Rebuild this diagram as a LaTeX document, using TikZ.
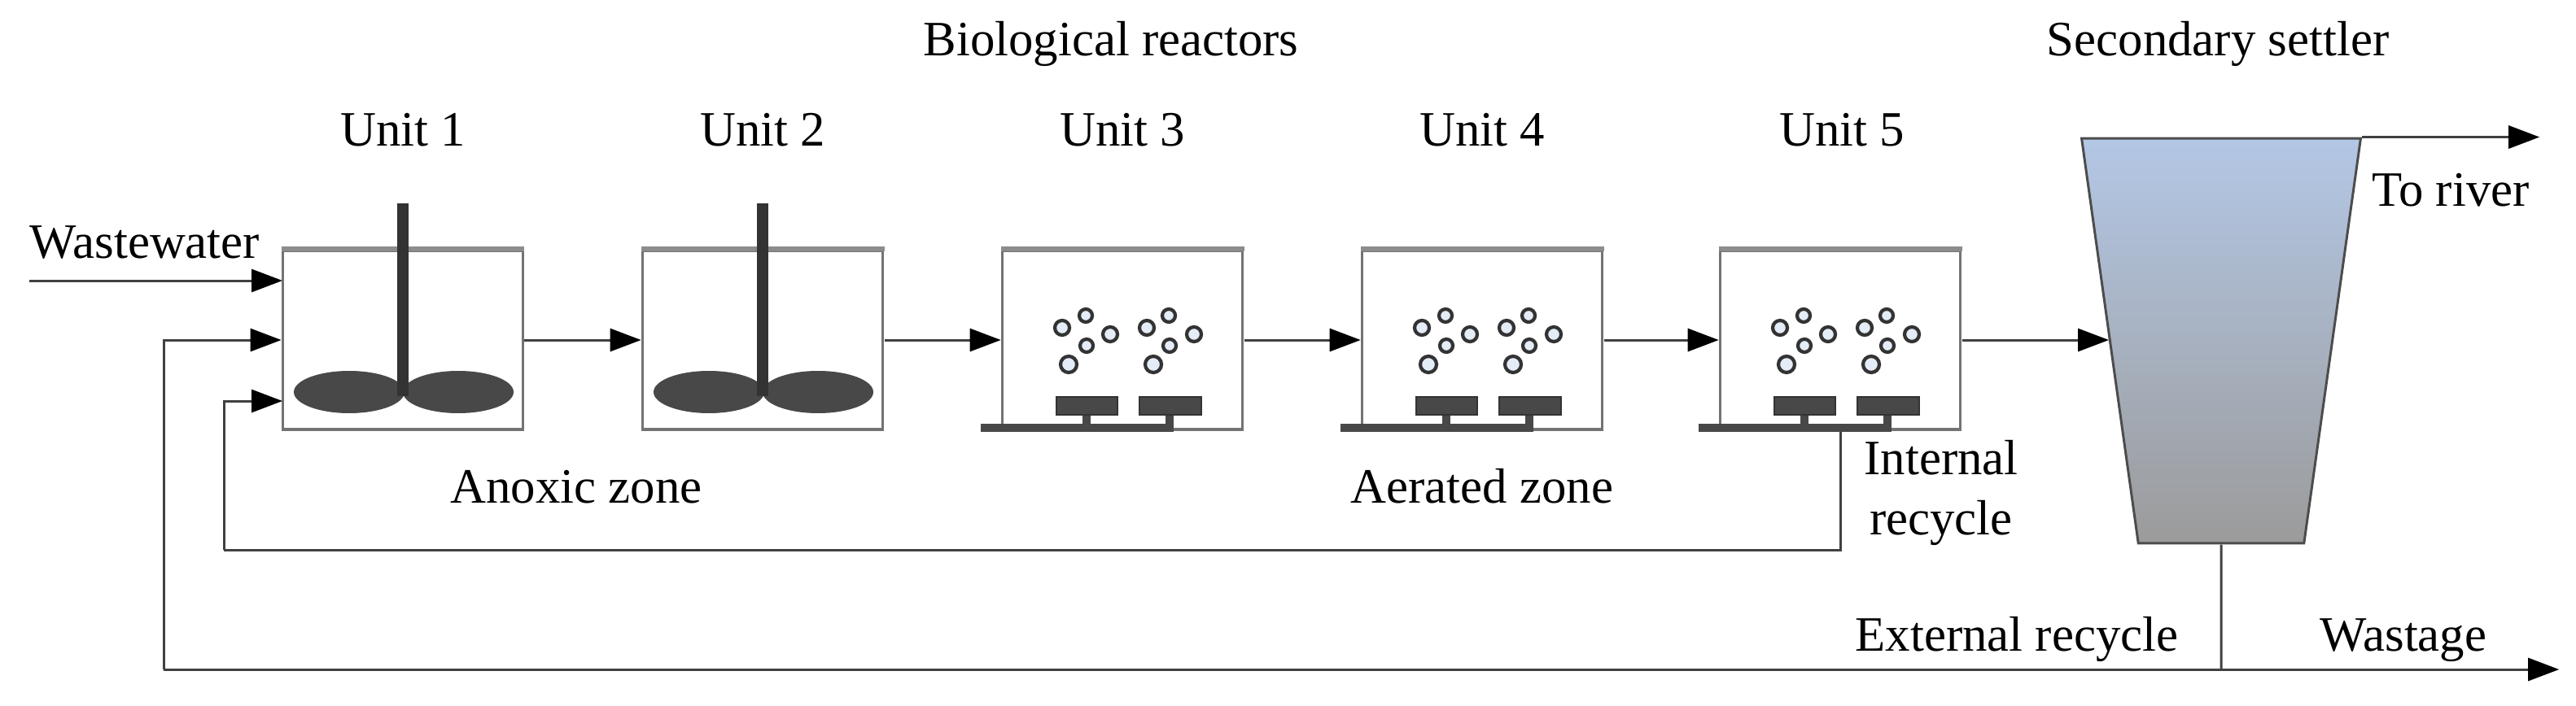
\documentclass[tikz,border=0pt]{standalone}
\usepackage{fontspec}
\setmainfont{Liberation Serif}
\usetikzlibrary{arrows.meta,shapes.geometric}
\definecolor{settlertop}{RGB}{179,199,229}
\definecolor{settlerbottom}{RGB}{155,155,155}
\definecolor{machinegray}{RGB}{72,72,72}
\definecolor{bubblefill}{RGB}{228,236,248}
\tikzset{
  flow/.style={draw=black!75,line width=0.85pt,-{Triangle[length=3.8mm,width=2.8mm,color=black]}},
  pipe/.style={draw=black!75,line width=0.85pt},
  unitbox/.style={draw=black!55,line width=1.1pt,fill=white,minimum width=2.95cm,minimum height=2.2cm},
  rim/.style={draw=black!45,line width=1.8pt},
  settlerbox/.style={trapezium,shape border rotate=180,trapezium stretches=true,trapezium angle=71.1,minimum width=3.44cm,minimum height=4.98cm,draw=black!70,line width=0.85pt,top color=settlertop,bottom color=settlerbottom},
  caption/.style={anchor=base,font=\fontsize{17.3}{21.3}\selectfont},
  shaft/.style={draw=black!80,line width=4.2pt},
  blade/.style={fill=machinegray},
  diffuser/.style={fill=machinegray,draw=black!80,line width=0.6pt},
  airpipe/.style={draw=machinegray,line width=3pt},
  bubble/.style={draw=black!80,line width=1.2pt,fill=bubblefill}
}
\begin{document}
\begin{tikzpicture}[scale=0.1]
\tikzstyle{every node}+=[inner sep=0pt]
\useasboundingbox (0,0) rectangle (316.5,-86.8);
\node [unitbox] (unitA) at (49.5,-41.8) {};
\node [unitbox] (unitB) at (93.7,-41.8) {};
\node [unitbox] (unitC) at (137.9,-41.8) {};
\node [unitbox] (unitD) at (182.1,-41.8) {};
\node [unitbox] (unitE) at (226.1,-41.8) {};
\node [settlerbox] (settler) at (272.9,-41.9) {\phantom{\rule{1cm}{1cm}}};
\node [caption] (titleReactors) at (136.5,-6.9) {Biological reactors};
\node [caption] (titleSettler) at (272.5,-6.9) {Secondary settler};
\node [caption] (labelA) at (49.5,-18) {Unit 1};
\node [caption] (labelB) at (93.7,-18) {Unit 2};
\node [caption] (labelC) at (137.9,-18) {Unit 3};
\node [caption] (labelD) at (182.1,-18) {Unit 4};
\node [caption] (labelE) at (226.3,-18) {Unit 5};
\node [caption] (labelWastewater) at (17.8,-31.8) {Wastewater};
\node [caption] (labelAnoxic) at (70.8,-61.8) {Anoxic zone};
\node [caption] (labelAerated) at (182.1,-61.8) {Aerated zone};
\node [caption,anchor=center,align=center] (labelInternal) at (238.5,-60.6) {Internal\\recycle};
\node [caption] (labelRiver) at (301.1,-25.4) {To river};
\node [caption] (labelExternal) at (247.8,-80) {External recycle};
\node [caption] (labelWastage) at (295.3,-80) {Wastage};
\coordinate (feedStart) at (3.6,-34.5);
\coordinate (feedEnd) at (34.7,-34.5);
\coordinate (internalEnd) at (34.7,-49.3);
\coordinate (internalCorner) at (27.5,-67.6);
\coordinate (externalCorner) at (20.1,-82.3);
\coordinate (junction) at (272.9,-82.3);
\coordinate (wastageEnd) at (314.4,-82.3);
\coordinate (riverEnd) at (312,-17);
\draw [rim] (unitA.north west) -- (unitA.north east);
\draw [rim] (unitB.north west) -- (unitB.north east);
\draw [rim] (unitC.north west) -- (unitC.north east);
\draw [rim] (unitD.north west) -- (unitD.north east);
\draw [rim] (unitE.north west) -- (unitE.north east);
\draw [flow] (feedStart) -- (feedEnd);
\draw [flow] (unitA.east) -- (unitB.west);
\draw [flow] (unitB.east) -- (unitC.west);
\draw [flow] (unitC.east) -- (unitD.west);
\draw [flow] (unitD.east) -- (unitE.west);
\draw [flow] (unitE.east) -- (unitE.east -| settler.west);
\draw [flow] (settler.bottom left corner) -- (settler.bottom left corner -| riverEnd);
\draw [pipe] (settler.south) -- (junction);
\draw [flow] (junction) -- (wastageEnd);
\draw [pipe] (junction) -- (externalCorner);
\draw [flow] (externalCorner) |- (unitA.west);
\draw [pipe] (unitE.south) |- (internalCorner);
\draw [flow] (internalCorner) |- (internalEnd);
\fill [blade] (42.9,-48.2) ellipse (6.8 and 2.6);
\fill [blade] (56.3,-48.2) ellipse (6.8 and 2.6);
\draw [shaft] (49.5,-25) -- (49.5,-48.7);
\fill [blade] (87.1,-48.2) ellipse (6.8 and 2.6);
\fill [blade] (100.5,-48.2) ellipse (6.8 and 2.6);
\draw [shaft] (93.7,-25) -- (93.7,-48.7);
\draw [airpipe] (120.5,-52.6) -- (144.2,-52.6);
\draw [airpipe] (133.5,-51) -- (133.5,-52.6);
\draw [airpipe] (143.7,-51) -- (143.7,-52.6);
\draw [diffuser] (129.8,-48.8) rectangle (137.3,-51);
\draw [diffuser] (140,-48.8) rectangle (147.6,-51);
\draw [bubble] (130.5,-40.3) circle (0.9);
\draw [bubble] (133.4,-38.8) circle (0.8);
\draw [bubble] (136.4,-41.1) circle (0.9);
\draw [bubble] (133.5,-42.5) circle (0.8);
\draw [bubble] (131.3,-44.8) circle (1);
\draw [bubble] (140.9,-40.3) circle (0.9);
\draw [bubble] (143.6,-38.8) circle (0.8);
\draw [bubble] (146.7,-41.1) circle (0.9);
\draw [bubble] (143.7,-42.5) circle (0.8);
\draw [bubble] (141.7,-44.8) circle (1);
\draw [airpipe] (164.7,-52.6) -- (188.4,-52.6);
\draw [airpipe] (177.7,-51) -- (177.7,-52.6);
\draw [airpipe] (187.9,-51) -- (187.9,-52.6);
\draw [diffuser] (174,-48.8) rectangle (181.5,-51);
\draw [diffuser] (184.2,-48.8) rectangle (191.8,-51);
\draw [bubble] (174.7,-40.3) circle (0.9);
\draw [bubble] (177.6,-38.8) circle (0.8);
\draw [bubble] (180.6,-41.1) circle (0.9);
\draw [bubble] (177.7,-42.5) circle (0.8);
\draw [bubble] (175.5,-44.8) circle (1);
\draw [bubble] (185.1,-40.3) circle (0.9);
\draw [bubble] (187.8,-38.8) circle (0.8);
\draw [bubble] (190.9,-41.1) circle (0.9);
\draw [bubble] (187.9,-42.5) circle (0.8);
\draw [bubble] (185.9,-44.8) circle (1);
\draw [airpipe] (208.7,-52.6) -- (232.4,-52.6);
\draw [airpipe] (221.7,-51) -- (221.7,-52.6);
\draw [airpipe] (231.9,-51) -- (231.9,-52.6);
\draw [diffuser] (218,-48.8) rectangle (225.5,-51);
\draw [diffuser] (228.2,-48.8) rectangle (235.8,-51);
\draw [bubble] (218.7,-40.3) circle (0.9);
\draw [bubble] (221.6,-38.8) circle (0.8);
\draw [bubble] (224.6,-41.1) circle (0.9);
\draw [bubble] (221.7,-42.5) circle (0.8);
\draw [bubble] (219.5,-44.8) circle (1);
\draw [bubble] (229.1,-40.3) circle (0.9);
\draw [bubble] (231.8,-38.8) circle (0.8);
\draw [bubble] (234.9,-41.1) circle (0.9);
\draw [bubble] (231.9,-42.5) circle (0.8);
\draw [bubble] (229.9,-44.8) circle (1);
\end{tikzpicture}
\end{document}
